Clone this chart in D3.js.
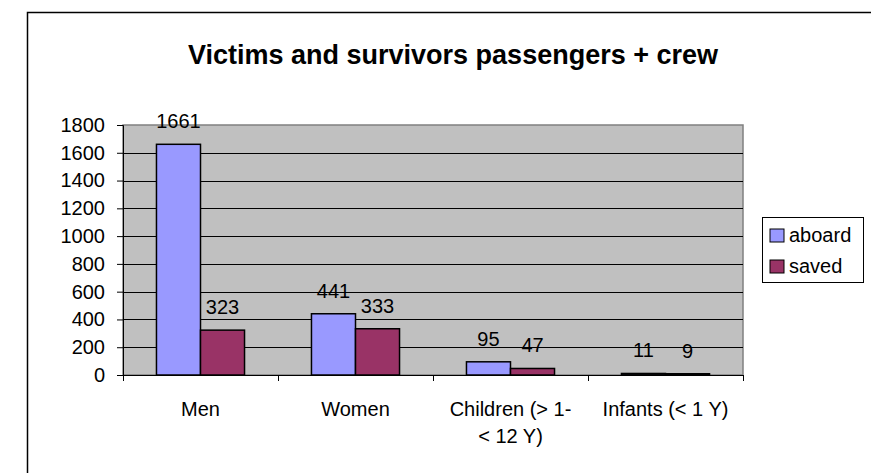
<!DOCTYPE html>
<html>
<head>
<meta charset="utf-8">
<script src="https://cdn.jsdelivr.net/npm/d3@7"></script>
<style>
  body { margin: 0; background: #fff; }
  text { font-family: Arial, "Liberation Sans", sans-serif; }
</style>
</head>
<body>
<svg id="s"></svg>
<script>
var categories = [["Men"], ["Women"], ["Children (> 1-", "< 12 Y)"], ["Infants (< 1 Y)"]];
var seriesNames = ["aboard", "saved"];
var aboard = [1661, 441, 95, 11];
var saved = [323, 333, 47, 9];
var yTicks = [0, 200, 400, 600, 800, 1000, 1200, 1400, 1600, 1800];
var colors = ["#9999ff", "#993366"];

var W = 871, H = 473;
var pLeft = 123, pRight = 743, pTop = 125, pBottom = 375;

var s = d3.select('#s').attr('width', W).attr('height', H);

// outer chart frame (cut off at right and bottom)
s.append('rect')
  .attr('x', 27.5).attr('y', 12.5)
  .attr('width', W + 10).attr('height', H + 10)
  .attr('fill', '#fff').attr('stroke', '#000').attr('stroke-width', 1.5);

s.append('text')
  .attr('x', 453).attr('y', 64)
  .attr('text-anchor', 'middle')
  .style('font-size', '27px').style('font-weight', 'bold')
  .text('Victims and survivors passengers + crew');

var x = d3.scaleBand().domain(d3.range(categories.length)).range([pLeft, pRight]);
var xs = d3.scaleBand().domain([0, 1]).range([0, x.bandwidth()]).paddingInner(0).paddingOuter(0.76);
var y = d3.scaleLinear().domain([0, 1800]).range([pBottom, pTop]);

s.append('rect')
  .attr('x', pLeft).attr('y', pTop)
  .attr('width', pRight - pLeft).attr('height', pBottom - pTop)
  .attr('fill', '#c0c0c0').attr('stroke', '#808080').attr('stroke-width', 1.5);

s.selectAll('line.grid')
  .data(yTicks.filter(function(d){ return d > 0 && d < 1800; }))
  .enter().append('line')
  .attr('class', 'grid')
  .attr('x1', pLeft).attr('x2', pRight)
  .attr('y1', function(d){ return Math.round(y(d)) + 0.5; })
  .attr('y2', function(d){ return Math.round(y(d)) + 0.5; })
  .attr('stroke', '#000').attr('stroke-width', 1);

var rows = [];
categories.forEach(function(c, i){
  rows.push({c: i, k: 0, v: aboard[i]});
  rows.push({c: i, k: 1, v: saved[i]});
});

s.selectAll('rect.bar')
  .data(rows)
  .enter().append('rect')
  .attr('class', 'bar')
  .attr('x', function(d){ return x(d.c) + xs(d.k); })
  .attr('y', function(d){ return y(d.v); })
  .attr('width', xs.bandwidth())
  .attr('height', function(d){ return y(0) - y(d.v); })
  .attr('fill', function(d){ return colors[d.k]; })
  .attr('stroke', '#000').attr('stroke-width', 1.5);

s.selectAll('text.val')
  .data(rows)
  .enter().append('text')
  .attr('class', 'val')
  .attr('x', function(d){ return x(d.c) + xs(d.k) + xs.bandwidth() / 2; })
  .attr('y', function(d){ return y(d.v) - 16; })
  .attr('text-anchor', 'middle')
  .style('font-size', '20px')
  .text(function(d){ return d.v; });

// y axis
var yAxis = s.append('g')
  .attr('transform', 'translate(' + pLeft + ',0)')
  .call(d3.axisLeft(y).tickValues(yTicks).tickSize(6).tickPadding(12).tickFormat(d3.format('d')));
yAxis.selectAll('text').style('font-size', '20px').attr('fill', '#000');
yAxis.selectAll('line,path').attr('stroke', '#000');

// x axis
var xLine = d3.scaleLinear().domain([0, categories.length]).range([pLeft, pRight]);
var xAxis = s.append('g')
  .attr('transform', 'translate(0,' + pBottom + ')')
  .call(d3.axisBottom(xLine).ticks(4).tickSize(6).tickSizeOuter(6).tickFormat(''));
xAxis.selectAll('line,path').attr('stroke', '#000');

var lab = s.selectAll('text.cat')
  .data(categories)
  .enter().append('text')
  .attr('class', 'cat')
  .attr('text-anchor', 'middle')
  .style('font-size', '20px')
  .attr('transform', function(d, i){ return 'translate(' + (x(i) + x.bandwidth() / 2) + ',416)'; });
lab.selectAll('tspan')
  .data(function(d){ return d; })
  .enter().append('tspan')
  .attr('x', 0)
  .attr('dy', function(d, i){ return i ? 27 : 0; })
  .text(function(d){ return d; });

// legend
var lg = s.append('g').attr('transform', 'translate(762,217)');
lg.append('rect').attr('x', 0.5).attr('y', 0.5).attr('width', 101).attr('height', 65)
  .attr('fill', '#fff').attr('stroke', '#000');
seriesNames.forEach(function(n, i){
  lg.append('rect')
    .attr('x', 8).attr('y', 12 + i * 31)
    .attr('width', 14).attr('height', 13)
    .attr('fill', colors[i]).attr('stroke', '#000');
  lg.append('text')
    .attr('x', 27).attr('y', 25 + i * 31)
    .style('font-size', '20px')
    .text(n);
});
</script>
</body>
</html>
